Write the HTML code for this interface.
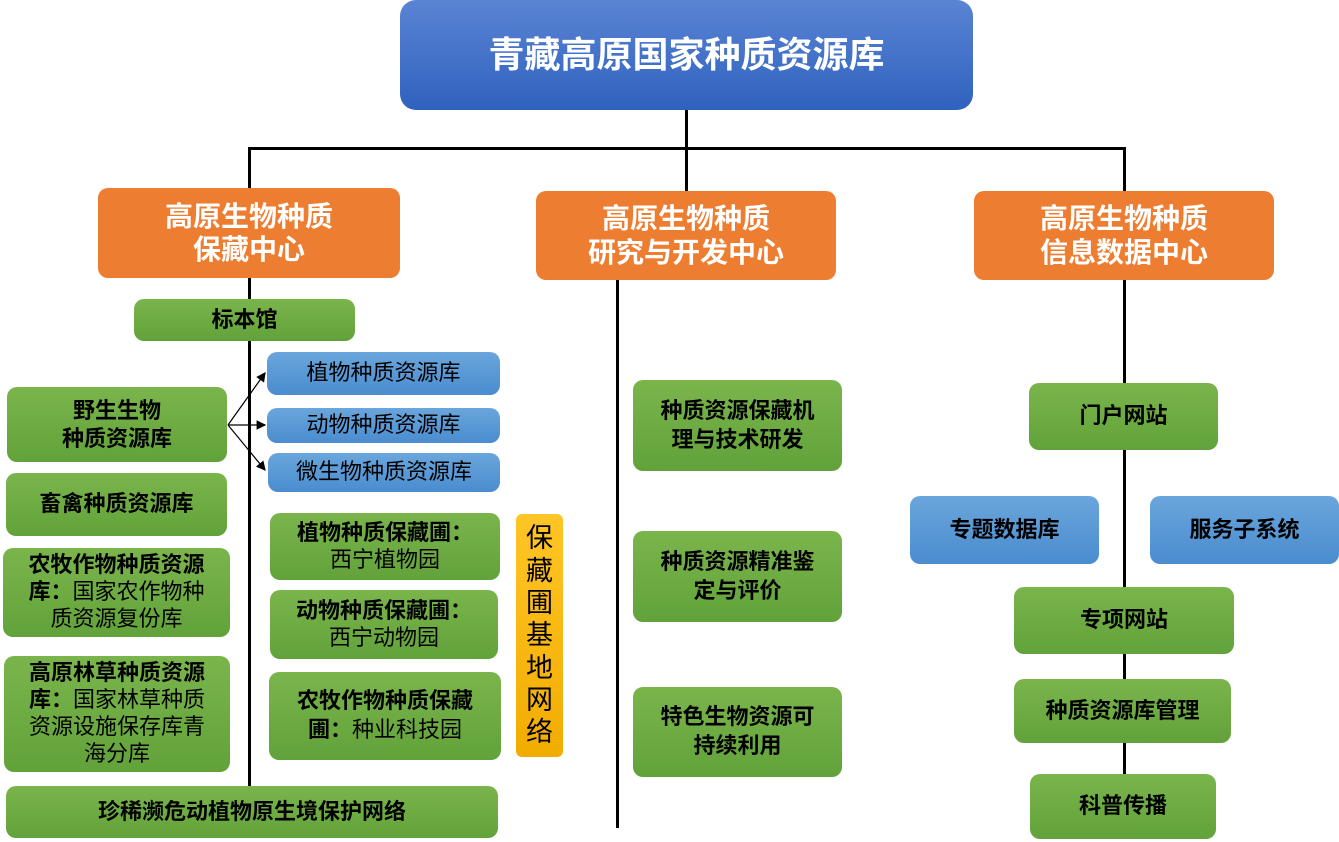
<!DOCTYPE html>
<html><head><meta charset="utf-8"><style>
body{margin:0;width:1339px;height:842px;background:#fff;position:relative;overflow:hidden;font-family:"Liberation Sans","Noto Sans CJK SC",sans-serif}
.b{position:absolute;box-sizing:border-box;display:flex;align-items:center;justify-content:center;text-align:center;border-radius:10px;color:#000;line-height:1.3}
.g{background:linear-gradient(#7ab54c,#62a23a);font-weight:bold;font-size:22px}
.bl{background:linear-gradient(#6aa6dc,#4a8ccf);font-size:22px}
.o{background:#ed7d31;color:#fff;font-weight:bold;font-size:28px;line-height:1.18}
.n{font-weight:normal}
.l{position:absolute;background:#000}
</style></head><body>
<div class="l" style="left:685px;top:108px;width:3px;height:83px"></div>
<div class="l" style="left:248px;top:147px;width:878px;height:3px"></div>
<div class="l" style="left:248px;top:147px;width:3px;height:45px"></div>
<div class="l" style="left:1123px;top:147px;width:3px;height:45px"></div>
<div class="l" style="left:248px;top:278px;width:3px;height:508px"></div>
<div class="l" style="left:616px;top:280px;width:3px;height:548px"></div>
<div class="l" style="left:1123px;top:280px;width:3px;height:495px"></div>

<div class="b" style="left:400px;top:0;width:573px;height:110px;background:linear-gradient(#5a84d4,#2f62be);color:#fff;font-weight:bold;font-size:36px;border-radius:16px"><div>青藏高原国家种质资源库</div></div>
<div class="b o" style="left:98px;top:188px;width:302px;height:90px"><div>高原生物种质<br>保藏中心</div></div>
<div class="b o" style="left:536px;top:191px;width:300px;height:89px"><div>高原生物种质<br>研究与开发中心</div></div>
<div class="b o" style="left:974px;top:191px;width:300px;height:89px"><div>高原生物种质<br>信息数据中心</div></div>

<div class="b g" style="left:134px;top:299px;width:221px;height:42px"><div>标本馆</div></div>
<div class="b bl" style="left:267px;top:352px;width:233px;height:43px"><div>植物种质资源库</div></div>
<div class="b bl" style="left:267px;top:408px;width:233px;height:35px"><div>动物种质资源库</div></div>
<div class="b bl" style="left:268px;top:453px;width:232px;height:39px"><div>微生物种质资源库</div></div>
<svg style="position:absolute;left:0;top:0" width="1339" height="842"><defs><marker id="a" markerWidth="8" markerHeight="8" refX="7" refY="4" orient="auto"><path d="M0,0L8,4L0,8z"/></marker></defs>
<g stroke="#000" stroke-width="1.2" fill="none"><line x1="228" y1="425" x2="265" y2="373" marker-end="url(#a)"/><line x1="228" y1="425" x2="265" y2="425" marker-end="url(#a)"/><line x1="228" y1="425" x2="265" y2="470" marker-end="url(#a)"/></g></svg>
<div class="b g" style="left:7px;top:387px;width:220px;height:75px;line-height:1.25"><div>野生生物<br>种质资源库</div></div>
<div class="b g" style="left:6px;top:473px;width:221px;height:63px"><div>畜禽种质资源库</div></div>
<div class="b g" style="left:3px;top:548px;width:227px;height:89px;line-height:1.22"><div>农牧作物种质资源<br>库：<span class="n">国家农作物种<br>质资源复份库</span></div></div>
<div class="b g" style="left:4px;top:656px;width:226px;height:116px;line-height:1.22"><div>高原林草种质资源<br>库：<span class="n">国家林草种质<br>资源设施保存库青<br>海分库</span></div></div>
<div class="b g" style="left:270px;top:513px;width:230px;height:67px;line-height:1.22"><div>植物种质保藏圃：<br><span class="n">西宁植物园</span></div></div>
<div class="b g" style="left:270px;top:590px;width:228px;height:69px;line-height:1.22"><div>动物种质保藏圃：<br><span class="n">西宁动物园</span></div></div>
<div class="b g" style="left:269px;top:672px;width:232px;height:88px;line-height:1.3"><div>农牧作物种质保藏<br>圃：<span class="n">种业科技园</span></div></div>
<div class="b" style="left:516px;top:514px;width:47px;height:243px;background:linear-gradient(#ffc526,#f2ac00);font-size:27px;line-height:1.2;border-radius:6px"><div>保<br>藏<br>圃<br>基<br>地<br>网<br>络</div></div>
<div class="b g" style="left:6px;top:786px;width:492px;height:52px"><div>珍稀濒危动植物原生境保护网络</div></div>

<div class="b g" style="left:633px;top:380px;width:209px;height:91px"><div>种质资源保藏机<br>理与技术研发</div></div>
<div class="b g" style="left:633px;top:531px;width:209px;height:91px"><div>种质资源精准鉴<br>定与评价</div></div>
<div class="b g" style="left:633px;top:687px;width:209px;height:90px"><div>特色生物资源可<br>持续利用</div></div>

<div class="b g" style="left:1029px;top:383px;width:189px;height:67px"><div>门户网站</div></div>
<div class="b bl" style="left:910px;top:496px;width:189px;height:68px;font-weight:bold"><div>专题数据库</div></div>
<div class="b bl" style="left:1150px;top:496px;width:189px;height:68px;font-weight:bold"><div>服务子系统</div></div>
<div class="b g" style="left:1014px;top:587px;width:220px;height:67px"><div>专项网站</div></div>
<div class="b g" style="left:1014px;top:679px;width:217px;height:64px"><div>种质资源库管理</div></div>
<div class="b g" style="left:1030px;top:774px;width:186px;height:65px"><div>科普传播</div></div>
</body></html>
